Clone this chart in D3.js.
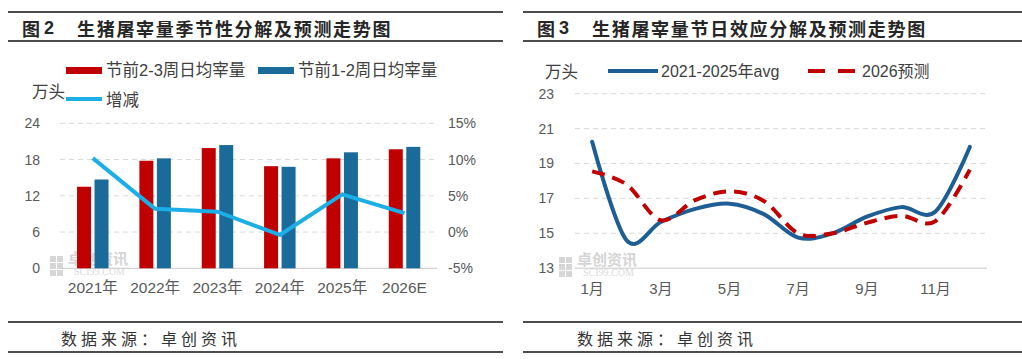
<!DOCTYPE html>
<html><head><meta charset="utf-8">
<script src="https://cdn.jsdelivr.net/npm/d3@7"></script>
<style>
body{margin:0;background:#fff;}
svg{display:block;font-family:"Liberation Sans","Noto Sans CJK SC",sans-serif;}
</style></head><body>
<svg id="c" width="1022" height="359"></svg>
<script>
// ---- Data: chart 2 (seasonal decomposition) ----
const years = ["2021年","2022年","2023年","2024年","2025年","2026E"];
const pre23 = [13.5, 17.8, 19.9, 16.9, 18.2, 19.7];   // 节前2-3周日均宰量 (万头)
const pre12 = [14.7, 18.2, 20.4, 16.8, 19.2, 20.1];   // 节前1-2周日均宰量 (万头)
const change = [10.2, 3.2, 2.8, -0.4, 5.2, 2.6];      // 增减 (%)
const leftTicks = [0, 6, 12, 18, 24];
const rightTicks = [-5, 0, 5, 10, 15];
// ---- Data: chart 3 (holiday effect) ----
const months = ["1月","2月","3月","4月","5月","6月","7月","8月","9月","10月","11月","12月"];
const avg2125 = [20.25, 14.6, 15.65, 16.4, 16.7, 16.1, 14.75, 15.0, 15.95, 16.5, 16.25, 19.95];
const fc2026 = [18.55, 17.8, 15.75, 16.9, 17.4, 16.85, 15.0, 15.0, 15.6, 16.0, 15.7, 18.65];
const monthTicks = ["1月","3月","5月","7月","9月","11月"];
const rightChartTicks = [13, 15, 17, 19, 21, 23];

const svg = d3.select("#c");
svg.append("rect").attr("width",1022).attr("height",359).attr("fill","#fff");

const RED="#c00000", BLUE="#1a6a9a", LBLUE="#1caee6", DBLUE="#1d5f94";
const GRID="#d9d9d9", TXT="#595959", LEG="#404040", RULE="#4d4d4d";

// ---------- frames (rules, titles, footers) ----------
function frame(x0, x1, num, title, titleX, numX) {
  [12, 41, 322, 352].forEach(y => svg.append("line").attr("x1",x0).attr("x2",x1)
    .attr("y1",y).attr("y2",y).attr("stroke",RULE).attr("stroke-width",2));
  svg.append("text").attr("x",numX).attr("y",28).attr("dominant-baseline","central")
    .attr("font-size",18).attr("font-weight","bold").attr("fill","#262626")
    .attr("font-family","'Noto Sans CJK SC',sans-serif").text("图");
  svg.append("text").attr("x",numX+22).attr("y",28).attr("dominant-baseline","central")
    .attr("font-size",18).attr("font-weight","bold").attr("fill","#262626").text(num);
  svg.append("text").attr("x",titleX).attr("y",28).attr("dominant-baseline","central")
    .attr("font-size",18).attr("font-weight","bold").attr("letter-spacing",1.7).attr("fill","#262626")
    .attr("font-family","'Noto Sans CJK SC',sans-serif").text(title);
}
frame(8, 503, "2", "生猪屠宰量季节性分解及预测走势图", 77, 22);
frame(523, 1022, "3", "生猪屠宰量节日效应分解及预测走势图", 592, 537);
[[61],[577]].forEach(([x]) => svg.append("text").attr("x",x).attr("y",338)
  .attr("dominant-baseline","central").attr("font-size",16).attr("letter-spacing",4)
  .attr("fill","#333").attr("font-family","'Noto Sans CJK SC',sans-serif").text("数据来源：卓创资讯"));

// watermark
function watermark(x, y) {
  const g = svg.append("g").attr("opacity",0.8);
  [[0,0],[7,0],[0,7],[7,7],[0,14],[7,14]].forEach(([dx,dy]) =>
    g.append("rect").attr("x",x+dx).attr("y",y+dy).attr("width",6).attr("height",6).attr("fill","#cdcdcd"));
  g.append("text").attr("x",x+18).attr("y",y+8).attr("font-size",15).attr("fill","#cbcbcb")
    .attr("font-family","'Noto Sans CJK SC',sans-serif").attr("font-weight","bold").text("卓创资讯");
  g.append("text").attr("x",x+24).attr("y",y+19).attr("font-size",10).attr("fill","#d3d3d3")
    .attr("font-family","'Liberation Serif',serif").text("SCI99.COM");
}
watermark(50, 256);
watermark(559, 257);

// ---------- Chart 2 ----------
const x2 = d3.scaleBand().domain(years).range([61.6, 435.7]);
const yL = d3.scaleLinear().domain([0,24]).range([268.3,123.3]);
const yR = d3.scaleLinear().domain([-5,15]).range([268.3,123.3]);
const g2 = svg.append("g");
leftTicks.filter(d=>d>0).forEach(t => g2.append("line").attr("x1",60).attr("x2",437)
  .attr("y1",yL(t)).attr("y2",yL(t)).attr("stroke",GRID).attr("stroke-dasharray","5,4"));
g2.append("line").attr("x1",60).attr("x2",437).attr("y1",yL(0)).attr("y2",yL(0)).attr("stroke","#c8c8c8");

const bw = 14, gap = 3.5;
const off = (x2.bandwidth() - (2*bw+gap))/2;
g2.selectAll(".r").data(pre23).join("rect").attr("x",(d,i)=>x2(years[i])+off).attr("width",bw)
  .attr("y",d=>yL(d)).attr("height",d=>yL(0)-yL(d)).attr("fill",RED);
g2.selectAll(".b").data(pre12).join("rect").attr("x",(d,i)=>x2(years[i])+off+bw+gap).attr("width",bw)
  .attr("y",d=>yL(d)).attr("height",d=>yL(0)-yL(d)).attr("fill",BLUE);
g2.append("path").datum(change).attr("fill","none").attr("stroke",LBLUE).attr("stroke-width",4)
  .attr("stroke-linejoin","round")
  .attr("d", d3.line().x((d,i)=>x2(years[i])+x2.bandwidth()/2).y(d=>yR(d)));

const axL = g2.append("g").attr("transform","translate(40,0)")
  .call(d3.axisLeft(yL).tickValues(leftTicks).tickSize(0).tickPadding(0));
const axR = g2.append("g").attr("transform","translate(448,0)")
  .call(d3.axisRight(yR).tickValues(rightTicks).tickSize(0).tickPadding(0).tickFormat(d=>d+"%"));
const axB = g2.append("g").attr("transform","translate(0,279)")
  .call(d3.axisBottom(x2).tickSize(0).tickPadding(3));
[axL,axR,axB].forEach(a=>{a.select(".domain").remove();
  a.selectAll("text").attr("fill",TXT).attr("font-family","'Liberation Sans','Noto Sans CJK SC',sans-serif");});
axL.selectAll("text").attr("font-size",14);
axR.selectAll("text").attr("font-size",14);
axB.selectAll("text").attr("font-size",15.5);

// legend chart 2
svg.append("text").attr("x",32).attr("y",91).attr("dominant-baseline","central").attr("font-size",16.5)
  .attr("fill",LEG).attr("font-family","'Noto Sans CJK SC',sans-serif").text("万头");
svg.append("rect").attr("x",66).attr("y",67).attr("width",36).attr("height",7).attr("fill",RED);
svg.append("text").attr("x",106).attr("y",70).attr("dominant-baseline","central").attr("font-size",16.5)
  .attr("fill",LEG).text("节前2-3周日均宰量");
svg.append("rect").attr("x",258).attr("y",67).attr("width",36).attr("height",7).attr("fill",BLUE);
svg.append("text").attr("x",298).attr("y",70).attr("dominant-baseline","central").attr("font-size",16.5)
  .attr("fill",LEG).text("节前1-2周日均宰量");
svg.append("line").attr("x1",66).attr("x2",102).attr("y1",99).attr("y2",99).attr("stroke",LBLUE).attr("stroke-width",4);
svg.append("text").attr("x",106).attr("y",99).attr("dominant-baseline","central").attr("font-size",16.5)
  .attr("fill",LEG).attr("font-family","'Noto Sans CJK SC',sans-serif").text("增减");

// ---------- Chart 3 ----------
const x3 = d3.scaleBand().domain(months).range([575, 987]);
const y3 = d3.scaleLinear().domain([13,23]).range([268.2, 93.7]);
const g3 = svg.append("g");
rightChartTicks.filter(d=>d>13).forEach(t => g3.append("line").attr("x1",575).attr("x2",987)
  .attr("y1",y3(t)).attr("y2",y3(t)).attr("stroke",GRID).attr("stroke-dasharray","5,4"));
g3.append("line").attr("x1",575).attr("x2",987).attr("y1",y3(13)).attr("y2",y3(13)).attr("stroke","#c8c8c8");
const line3 = d3.line().x((d,i)=>x3(months[i])+x3.bandwidth()/2).y(d=>y3(d)).curve(d3.curveCardinal.tension(0));
g3.append("path").datum(avg2125).attr("fill","none").attr("stroke",DBLUE).attr("stroke-width",4)
  .attr("stroke-linecap","round").attr("d",line3);
g3.append("path").datum(fc2026).attr("fill","none").attr("stroke",RED).attr("stroke-width",4)
  .attr("stroke-dasharray","13,8").attr("d",line3);
const ax3L = g3.append("g").attr("transform","translate(554,0)")
  .call(d3.axisLeft(y3).tickValues(rightChartTicks).tickSize(0).tickPadding(0));
const ax3B = g3.append("g").attr("transform","translate(0,280)")
  .call(d3.axisBottom(x3).tickValues(monthTicks).tickSize(0).tickPadding(3));
[ax3L,ax3B].forEach(a=>{a.select(".domain").remove();
  a.selectAll("text").attr("fill",TXT).attr("font-family","'Liberation Sans','Noto Sans CJK SC',sans-serif");});
ax3L.selectAll("text").attr("font-size",14);
ax3B.selectAll("text").attr("font-size",15);

// legend chart 3
svg.append("text").attr("x",545).attr("y",71).attr("dominant-baseline","central").attr("font-size",16.5)
  .attr("fill",LEG).attr("font-family","'Noto Sans CJK SC',sans-serif").text("万头");
svg.append("line").attr("x1",608).attr("x2",658).attr("y1",71).attr("y2",71).attr("stroke",DBLUE).attr("stroke-width",4);
svg.append("text").attr("x",661).attr("y",71).attr("dominant-baseline","central").attr("font-size",16)
  .attr("fill",LEG).text("2021-2025年avg");
svg.append("line").attr("x1",808).attr("x2",855).attr("y1",71).attr("y2",71).attr("stroke",RED).attr("stroke-width",4)
  .attr("stroke-dasharray","17,13");
svg.append("text").attr("x",862).attr("y",71).attr("dominant-baseline","central").attr("font-size",16)
  .attr("fill",LEG).text("2026预测");
</script></body></html>
